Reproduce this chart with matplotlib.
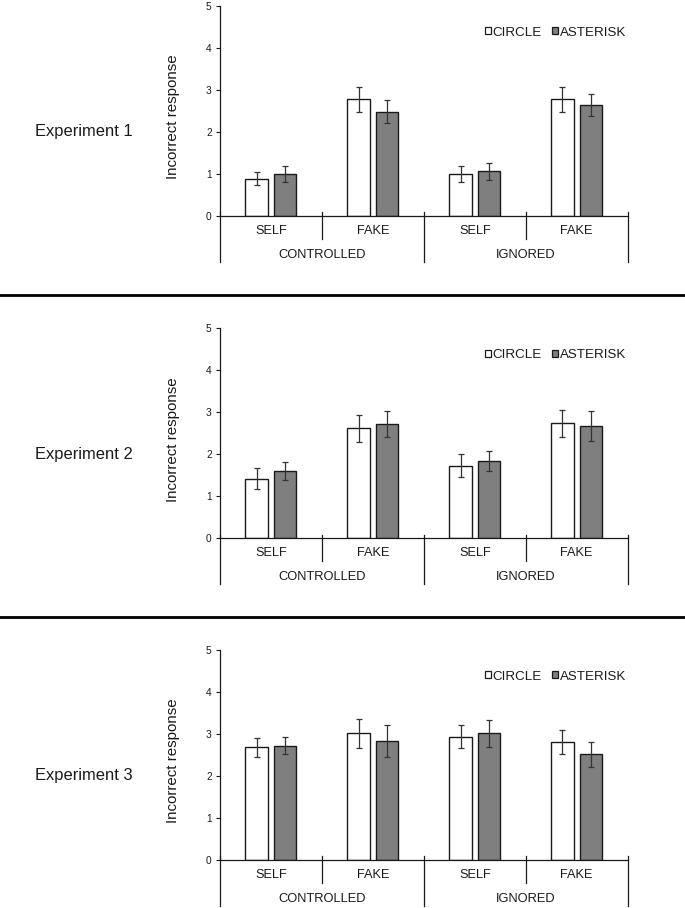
import matplotlib
matplotlib.use("Agg")
import matplotlib.pyplot as plt
from matplotlib.patches import Patch
from matplotlib.lines import Line2D

plt.rcParams['font.family'] = ['Liberation Sans', 'DejaVu Sans']

conditions = ["SELF", "FAKE", "SELF", "FAKE"]
groups = ["CONTROLLED", "IGNORED"]
experiments = ["Experiment 1", "Experiment 2", "Experiment 3"]

# mean incorrect responses, one list per experiment (SELF/FAKE x CONTROLLED/IGNORED)
circle_1 = [0.89, 2.77, 1.00, 2.77]
asterisk_1 = [1.00, 2.48, 1.06, 2.64]
circle_err_1 = [0.16, 0.29, 0.18, 0.30]
asterisk_err_1 = [0.18, 0.28, 0.21, 0.27]

circle_2 = [1.42, 2.62, 1.73, 2.73]
asterisk_2 = [1.60, 2.72, 1.84, 2.67]
circle_err_2 = [0.24, 0.32, 0.28, 0.31]
asterisk_err_2 = [0.21, 0.30, 0.23, 0.35]

circle_3 = [2.68, 3.01, 2.93, 2.81]
asterisk_3 = [2.72, 2.83, 3.01, 2.51]
circle_err_3 = [0.22, 0.35, 0.27, 0.29]
asterisk_err_3 = [0.21, 0.37, 0.33, 0.29]

circle = [circle_1, circle_2, circle_3]
asterisk = [asterisk_1, asterisk_2, asterisk_3]
circle_err = [circle_err_1, circle_err_2, circle_err_3]
asterisk_err = [asterisk_err_1, asterisk_err_2, asterisk_err_3]

W, H = 685, 908
fig = plt.figure(figsize=(W / 100, H / 100), dpi=100)

ax_left, ax_right = 220, 627.7
ax_h = 210.3
zero_y = [216, 538.3, 860]   # pixel row of y=0 in each panel
sep_y = [294.5, 616.5]

txt = '#1a1a1a'
edge = '#1a1a1a'
gray = '#7f7f7f'
errc = '#333333'

for p in range(3):
    ax = fig.add_axes([ax_left / W, (H - zero_y[p]) / H,
                       (ax_right - ax_left) / W, ax_h / H])
    x = range(len(conditions))
    xc = [i - 0.14 for i in x]
    xa = [i + 0.14 for i in x]
    ax.bar(xc, circle[p], width=0.22, color='white', edgecolor=edge, linewidth=1.0, zorder=2)
    ax.bar(xa, asterisk[p], width=0.22, color=gray, edgecolor=edge, linewidth=1.0, zorder=2)
    ax.errorbar(xc, circle[p], yerr=circle_err[p], fmt='none', ecolor=errc,
                elinewidth=0.9, capsize=2.5, capthick=0.9, zorder=3)
    ax.errorbar(xa, asterisk[p], yerr=asterisk_err[p], fmt='none', ecolor=errc,
                elinewidth=0.9, capsize=2.5, capthick=0.9, zorder=3)

    ax.set_xlim(-0.5, 3.5)
    ax.set_ylim(0, 5)
    ax.set_yticks([0, 1, 2, 3, 4, 5])
    ax.set_xticks([])
    ax.tick_params(axis='y', length=3, width=0.8, color=edge, labelsize=7.3, labelcolor=txt, pad=3)
    for s in ['top', 'right']:
        ax.spines[s].set_visible(False)
    for s in ['left', 'bottom']:
        ax.spines[s].set_color(edge)
        ax.spines[s].set_linewidth(0.9)

    ax.set_ylabel("Incorrect response", fontsize=10.9, color=txt)
    ax.yaxis.set_label_coords(-0.098, 0.47)

    # category divider lines below the axis
    tr = ax.get_xaxis_transform()
    for xv in [-0.5, 1.5, 3.5]:
        ax.add_line(Line2D([xv, xv], [0.018, -0.219], transform=tr, color=edge,
                           lw=0.9, clip_on=False))
    for xv in [0.5, 2.5]:
        ax.add_line(Line2D([xv, xv], [0.018, -0.11], transform=tr, color=edge,
                           lw=0.9, clip_on=False))
    for i, c in enumerate(conditions):
        ax.text(i, -0.071, c, transform=tr, ha='center', va='center', fontsize=9.2, color=txt)
    for g, name in enumerate(groups):
        ax.text(2 * g + 0.5, -0.186, name, transform=tr, ha='center', va='center',
                fontsize=9.3, color=txt)

    handles = [Patch(facecolor='white', edgecolor=edge, linewidth=0.9, label='CIRCLE'),
               Patch(facecolor=gray, edgecolor=edge, linewidth=0.9, label='ASTERISK')]
    ax.legend(handles=handles, loc='center right', bbox_to_anchor=(1.012, 0.872), ncol=2,
              frameon=False, handlelength=0.42, handleheight=0.42, handletextpad=0.12,
              columnspacing=0.8, fontsize=9.6, labelcolor=txt, borderpad=0)

    fig.text(35 / W, (H - (zero_y[p] - 0.40 * ax_h)) / H, experiments[p],
             ha='left', va='center', fontsize=11.9, color=txt)

for yv in sep_y:
    fig.add_artist(Line2D([0, 1], [(H - yv) / H] * 2, transform=fig.transFigure,
                          color='black', lw=2))

fig.savefig("out.png", dpi=100, facecolor='white')
